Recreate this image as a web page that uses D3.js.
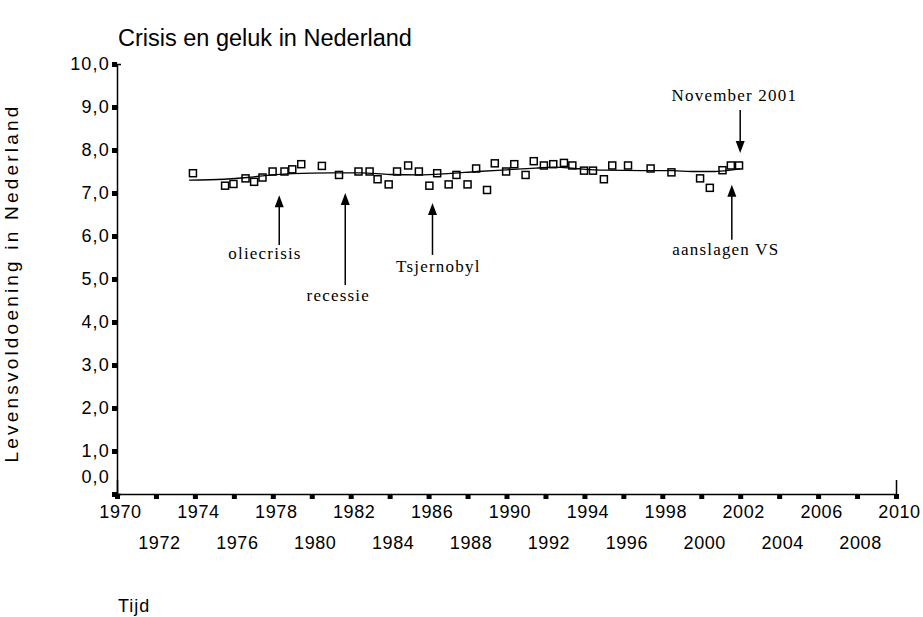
<!DOCTYPE html>
<html>
<head>
<meta charset="utf-8">
<script src="https://cdn.jsdelivr.net/npm/d3@7"></script>
<style>
  body { margin: 0; background: #fff; }
  svg { display: block; }
  .sans { font-family: Arial, "Liberation Sans", sans-serif; }
  .serif { font-family: "Times New Roman", "Liberation Serif", serif; }
</style>
</head>
<body>
<div id="chart"></div>
<script>
// survey moments (decimal year) and mean life satisfaction
let years = [1973.9, 1975.55, 1975.98, 1976.6, 1977.04, 1977.47, 1977.99, 1978.6, 1979.0, 1979.46,
  1980.52, 1981.4, 1982.4, 1982.97, 1983.38, 1983.95, 1984.38, 1984.95, 1985.5, 1986.04,
  1986.44, 1987.03, 1987.43, 1988.0, 1988.44, 1989.0, 1989.4, 1989.98, 1990.4, 1990.98,
  1991.4, 1991.92, 1992.4, 1992.95, 1993.38, 1993.98, 1994.44, 1995.0, 1995.43, 1996.24,
  1997.4, 1998.47, 1999.94, 2000.44, 2001.09, 2001.52, 2001.94];
let satisfaction = [7.46, 7.17, 7.21, 7.34, 7.26, 7.36, 7.50, 7.50, 7.55, 7.67,
  7.63, 7.42, 7.50, 7.50, 7.32, 7.20, 7.50, 7.64, 7.50, 7.17,
  7.46, 7.20, 7.42, 7.20, 7.57, 7.07, 7.69, 7.50, 7.67, 7.42,
  7.74, 7.64, 7.67, 7.70, 7.64, 7.52, 7.52, 7.32, 7.64, 7.64,
  7.57, 7.48, 7.34, 7.12, 7.53, 7.64, 7.64];

// smoothed trend
let trendYears = [1973.7, 1975.5, 1976.7, 1977.7, 1979, 1981, 1982.5, 1984, 1985.5, 1987,
  1988.5, 1990, 1991.5, 1992.5, 1993.5, 1995, 1997, 1998.5, 1999.5, 2000.7, 2001.5, 2002];
let trendValues = [7.30, 7.32, 7.36, 7.41, 7.45, 7.47, 7.47, 7.43, 7.42, 7.45,
  7.50, 7.54, 7.58, 7.60, 7.57, 7.53, 7.52, 7.52, 7.50, 7.50, 7.53, 7.56];

let yTicks = [0, 1, 2, 3, 4, 5, 6, 7, 8, 9, 10];
let xTicks = d3.range(1970, 2011, 2);

// events: label, year of arrow, arrow from -> to (value), label position
let events = [
  { label: "oliecrisis", year: 1978.33, from: 5.79, to: 6.95, textYear: 1977.6, textValue: 5.47 },
  { label: "recessie", year: 1981.72, from: 4.86, to: 7.0, textYear: 1981.36, textValue: 4.49 },
  { label: "Tsjernobyl", year: 1986.2, from: 5.56, to: 6.77, textYear: 1986.5, textValue: 5.16 },
  { label: "aanslagen VS", year: 2001.57, from: 5.91, to: 7.19, textYear: 2001.26, textValue: 5.56 },
  { label: "November 2001", year: 2002.0, from: 8.93, to: 7.93, textYear: 2001.7, textValue: 9.14 }
];

let svg = d3.select("#chart").append("svg").attr("width", 923).attr("height", 617);

let x = d3.scaleLinear().domain([1970, 2010]).range([117, 896]);
let y = d3.scaleLinear().domain([0, 10]).range([494, 64]);

svg.append("text").attr("class", "sans")
  .attr("x", 118).attr("y", 46)
  .style("font-size", "23.5px")
  .text("Crisis en geluk in Nederland");

svg.append("text").attr("class", "sans")
  .attr("transform", "translate(18,283) rotate(-90)")
  .attr("text-anchor", "middle")
  .style("font-size", "19px").style("letter-spacing", "3.2px")
  .text("Levensvoldoening in Nederland");

svg.append("text").attr("class", "sans")
  .attr("x", 118).attr("y", 612)
  .style("font-size", "18px").style("letter-spacing", "1px")
  .text("Tijd");

// y axis
let yAxis = svg.append("g").attr("transform", `translate(${x(1970)},0)`)
  .call(d3.axisLeft(y).tickValues(yTicks).tickSize(5).tickSizeOuter(-4).tickPadding(2)
    .tickFormat(d => d3.format(".1f")(d).replace(".", ",")));
yAxis.select(".domain").attr("stroke", "#000").attr("stroke-width", 1.5);
yAxis.selectAll(".tick line").attr("stroke", "#000").attr("stroke-width", 5);
yAxis.selectAll(".tick text").attr("class", "sans").attr("fill", "#000")
  .style("font-size", "18px").style("letter-spacing", "1.2px")
  .attr("dy", d => d == 0 ? "-0.62em" : "0.32em");

// x axis, labels alternate over two rows
let xAxis = svg.append("g").attr("transform", `translate(0,${y(0)})`)
  .call(d3.axisBottom(x).tickValues(xTicks).tickSize(5).tickSizeOuter(-14).tickPadding(6)
    .tickFormat(d3.format("d")));
xAxis.select(".domain").attr("stroke", "#000").attr("stroke-width", 1.5);
xAxis.selectAll(".tick line").attr("stroke", "#000").attr("stroke-width", 5);
xAxis.selectAll(".tick text").attr("class", "sans").attr("fill", "#000")
  .style("font-size", "18px").style("letter-spacing", "0.6px")
  .attr("dx", 3)
  .attr("dy", (d, i) => i % 2 == 0 ? "0.71em" : "2.45em");

// trend line
let line = d3.line().x(d => x(d[0])).y(d => y(d[1])).curve(d3.curveMonotoneX);
svg.append("path")
  .datum(trendYears.map((yr, i) => [yr, trendValues[i]]))
  .attr("d", line)
  .attr("fill", "none").attr("stroke", "#000").attr("stroke-width", 1.3);

// observed points as hollow squares
svg.append("g").selectAll("rect")
  .data(years.map((yr, i) => [yr, satisfaction[i]]))
  .enter()
  .append("rect")
  .attr("x", d => x(d[0]) - 3.5)
  .attr("y", d => y(d[1]) - 3.5)
  .attr("width", 7).attr("height", 7)
  .attr("fill", "none").attr("stroke", "#000").attr("stroke-width", 1.5);

// event arrows
let ev = svg.append("g").selectAll("g").data(events).enter().append("g");
ev.append("line")
  .attr("x1", d => x(d.year)).attr("x2", d => x(d.year))
  .attr("y1", d => y(d.from))
  .attr("y2", d => y(d.to) + (d.to > d.from ? 10 : -10))
  .attr("stroke", "#000").attr("stroke-width", 1.5);
ev.append("path")
  .attr("d", d => {
    let tx = x(d.year), ty = y(d.to), s = d.to > d.from ? 1 : -1;
    return `M${tx},${ty} L${tx - 4.5},${ty + s * 12} L${tx + 4.5},${ty + s * 12} Z`;
  })
  .attr("fill", "#000");
ev.append("text").attr("class", "serif")
  .attr("x", d => x(d.textYear)).attr("y", d => y(d.textValue))
  .attr("text-anchor", "middle")
  .style("font-size", "17px").style("letter-spacing", "1.2px")
  .text(d => d.label);
</script>
</body>
</html>
